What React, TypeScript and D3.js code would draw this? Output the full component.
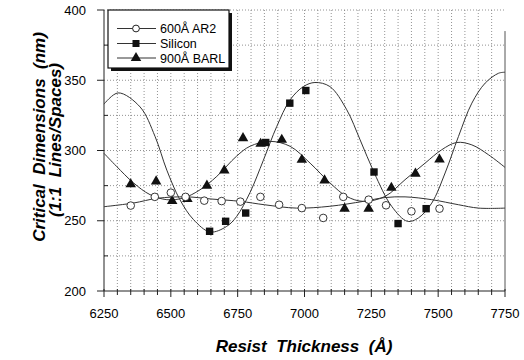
import * as d3 from "d3";
import { useEffect, useRef } from "react";

// measured points (thickness in Å, CD in nm)
const ar2Points: [number, number][] = [
  [6350, 260.8], [6440, 267], [6500, 270], [6555, 267], [6625, 264.3], [6690, 264],
  [6760, 263.6], [6835, 267], [6905, 261.4], [6990, 259], [7070, 252], [7145, 267],
  [7240, 265], [7305, 261], [7400, 256.7], [7505, 258.6],
];
const siliconPoints: [number, number][] = [
  [6645, 242.5], [6705, 249.6], [6780, 255.5], [6855, 305.7], [6945, 333.7],
  [7005, 342.7], [7260, 284.7], [7350, 248], [7455, 258.6],
];
const barlPoints: [number, number][] = [
  [6350, 276], [6445, 278], [6505, 264], [6562, 265.5], [6635, 275], [6700, 285.8],
  [6770, 308.8], [6836, 304.8], [6915, 307.6], [6990, 293.4], [7075, 278.7],
  [7150, 258.6], [7240, 258.6], [7325, 273.5], [7415, 283.5], [7505, 293.6],
];

// fitted curves
const ar2Fit: [number, number][] = [
  [6250, 260], [6360, 262.6], [6450, 266], [6560, 267], [6650, 265.5], [6760, 263.8],
  [6850, 261.4], [6970, 259], [7095, 260.3], [7220, 263.8], [7301, 266.5], [7376, 267],
  [7476, 265], [7576, 261.4], [7651, 259], [7750, 259],
];
const siliconFit: [number, number][] = [
  [6250, 333], [6303, 341], [6385, 331], [6441, 310], [6485, 286], [6534, 265],
  [6584, 251], [6647, 242], [6709, 246], [6746, 253], [6796, 270], [6846, 293],
  [6896, 317], [6946, 336], [6996, 345.5], [7039, 348.4], [7095, 345.5], [7158, 329],
  [7208, 307.6], [7261, 284], [7326, 260.3], [7385, 249.6], [7426, 252], [7476, 262.6],
  [7526, 284], [7576, 310], [7626, 333.7], [7676, 348], [7726, 355], [7750, 355.7],
];
const barlFit: [number, number][] = [
  [6250, 298], [6297, 288.7], [6360, 277], [6422, 268.6], [6485, 265], [6547, 266.2],
  [6609, 272], [6672, 281.6], [6746, 296], [6796, 303], [6871, 306.5], [6946, 303],
  [7021, 291], [7095, 277], [7158, 267.3], [7220, 263.8], [7301, 267.3], [7376, 279.2],
  [7451, 291], [7513, 300.5], [7569, 305.7], [7626, 304], [7688, 297], [7750, 288],
];

const xTicks = [6250, 6500, 6750, 7000, 7250, 7500, 7750];
const yTicks = [200, 250, 300, 350, 400];
const legendLabels = ["600Å AR2", "Silicon", "900Å BARL"];

const W = 524;
const H = 360;
const margin = { top: 10, right: 19, bottom: 69, left: 104 };
const font = "'Liberation Sans', Arial, Helvetica, sans-serif";

const App = () => {
  const ref = useRef<SVGSVGElement>(null);

  useEffect(() => {
    const svg = d3.select(ref.current);
    svg.selectAll("*").remove();

    const x = d3.scaleLinear().domain([6250, 7750]).range([margin.left, W - margin.right]);
    const y = d3.scaleLinear().domain([200, 400]).range([H - margin.bottom, margin.top]);

    svg.append("rect").attr("width", W).attr("height", H).attr("fill", "#fff");

    // dotted grid
    const grid = svg.append("g").attr("stroke", "#777").attr("stroke-width", 0.8).attr("stroke-dasharray", "1,2");
    grid.selectAll("line.v")
      .data(d3.range(6300, 7750, 50))
      .enter().append("line")
      .attr("x1", d => x(d)).attr("x2", d => x(d))
      .attr("y1", y(400)).attr("y2", y(200));
    grid.selectAll("line.h")
      .data(d3.range(225, 425, 25))
      .enter().append("line")
      .attr("x1", x(6250)).attr("x2", x(7750))
      .attr("y1", d => y(d)).attr("y2", d => y(d));

    // axes
    const ax = svg.append("g").attr("stroke", "#222").attr("stroke-width", 1);
    ax.append("line").attr("x1", x(6250)).attr("x2", x(7750)).attr("y1", y(200)).attr("y2", y(200));
    ax.append("line").attr("x1", x(6250)).attr("x2", x(6250)).attr("y1", y(200)).attr("y2", y(400));
    ax.append("line").attr("x1", x(7750)).attr("x2", x(7750)).attr("y1", y(200)).attr("y2", y(385)).attr("stroke", "#555");
    ax.selectAll("line.xt")
      .data(d3.range(6250, 7800, 50))
      .enter().append("line")
      .attr("x1", d => x(d)).attr("x2", d => x(d))
      .attr("y1", y(200) - 2).attr("y2", d => y(200) + (d % 250 === 0 ? 6 : 4));
    ax.selectAll("line.yt")
      .data(yTicks)
      .enter().append("line")
      .attr("x1", x(6250) - 7).attr("x2", x(6250))
      .attr("y1", d => y(d)).attr("y2", d => y(d));
    ax.selectAll("line.ym")
      .data([225, 275, 325, 375])
      .enter().append("line")
      .attr("x1", x(6250)).attr("x2", x(6250) + 4)
      .attr("y1", d => y(d)).attr("y2", d => y(d));

    svg.selectAll("text.xl")
      .data(xTicks)
      .enter().append("text")
      .attr("x", d => x(d)).attr("y", 318)
      .attr("text-anchor", "middle")
      .style("font", `13px ${font}`)
      .text(d => d);
    svg.selectAll("text.yl")
      .data(yTicks)
      .enter().append("text")
      .attr("x", 86).attr("y", d => y(d)).attr("dy", "0.36em")
      .attr("text-anchor", "end")
      .style("font", `13px ${font}`)
      .text(d => d);

    svg.append("text")
      .attr("x", 304).attr("y", 352)
      .attr("text-anchor", "middle")
      .style("font", `italic bold 17px ${font}`)
      .style("white-space", "pre")
      .text("Resist  Thickness  (Å)");
    svg.append("text")
      .attr("transform", "translate(45,137) rotate(-90)")
      .attr("text-anchor", "middle")
      .style("font", `italic bold 17px ${font}`)
      .style("white-space", "pre")
      .text("Critical  Dimensions  (nm)");
    svg.append("text")
      .attr("transform", "translate(61,140) rotate(-90)")
      .attr("text-anchor", "middle")
      .style("font", `italic bold 17px ${font}`)
      .style("white-space", "pre")
      .text("(1:1  Lines/Spaces)");

    // fitted curves
    const line = d3.line<[number, number]>()
      .x(d => x(d[0])).y(d => y(d[1]))
      .curve(d3.curveCatmullRom.alpha(0.5));
    [ar2Fit, siliconFit, barlFit].forEach(f => {
      svg.append("path").attr("d", line(f)).attr("fill", "none").attr("stroke", "#333").attr("stroke-width", 1);
    });

    // markers
    const tri = d3.symbol().type(d3.symbolTriangle).size(48);
    svg.append("g").selectAll("path")
      .data(barlPoints)
      .enter().append("path")
      .attr("d", tri)
      .attr("transform", d => `translate(${x(d[0])},${y(d[1])})`)
      .attr("fill", "#111");
    svg.append("g").selectAll("rect")
      .data(siliconPoints)
      .enter().append("rect")
      .attr("x", d => x(d[0]) - 3.7).attr("y", d => y(d[1]) - 3.7)
      .attr("width", 7.4).attr("height", 7.4)
      .attr("fill", "#111");
    svg.append("g").selectAll("circle")
      .data(ar2Points)
      .enter().append("circle")
      .attr("cx", d => x(d[0])).attr("cy", d => y(d[1]))
      .attr("r", 3.8)
      .attr("fill", "#fff").attr("stroke", "#222").attr("stroke-width", 0.9);

    // legend
    const lg = svg.append("g");
    lg.append("rect").attr("x", 111).attr("y", 13).attr("width", 121).attr("height", 58).attr("fill", "#111");
    lg.append("rect").attr("x", 108).attr("y", 10).attr("width", 121).attr("height", 58)
      .attr("fill", "#fff").attr("stroke", "#111").attr("stroke-width", 1.2);
    const rows = [28.5, 43.5, 58];
    legendLabels.forEach((lab, i) => {
      const ry = rows[i];
      lg.append("line").attr("x1", 117).attr("x2", 156).attr("y1", ry).attr("y2", ry).attr("stroke", "#333");
      if (i === 0) {
        lg.append("circle").attr("cx", 136).attr("cy", ry).attr("r", 3.4).attr("fill", "#fff").attr("stroke", "#222");
      } else if (i === 1) {
        lg.append("rect").attr("x", 132.5).attr("y", ry - 3.5).attr("width", 7).attr("height", 7).attr("fill", "#111");
      } else {
        lg.append("path").attr("d", tri).attr("transform", `translate(136,${ry})`).attr("fill", "#111");
      }
      lg.append("text").attr("x", 160).attr("y", ry).attr("dy", "0.36em")
        .style("font", `12.5px ${font}`).text(lab);
    });
  }, []);

  return (
    <svg ref={ref} width={W} height={H} style={{ position: "absolute", left: 0, top: 0 }}></svg>
  );
};

export default App;
